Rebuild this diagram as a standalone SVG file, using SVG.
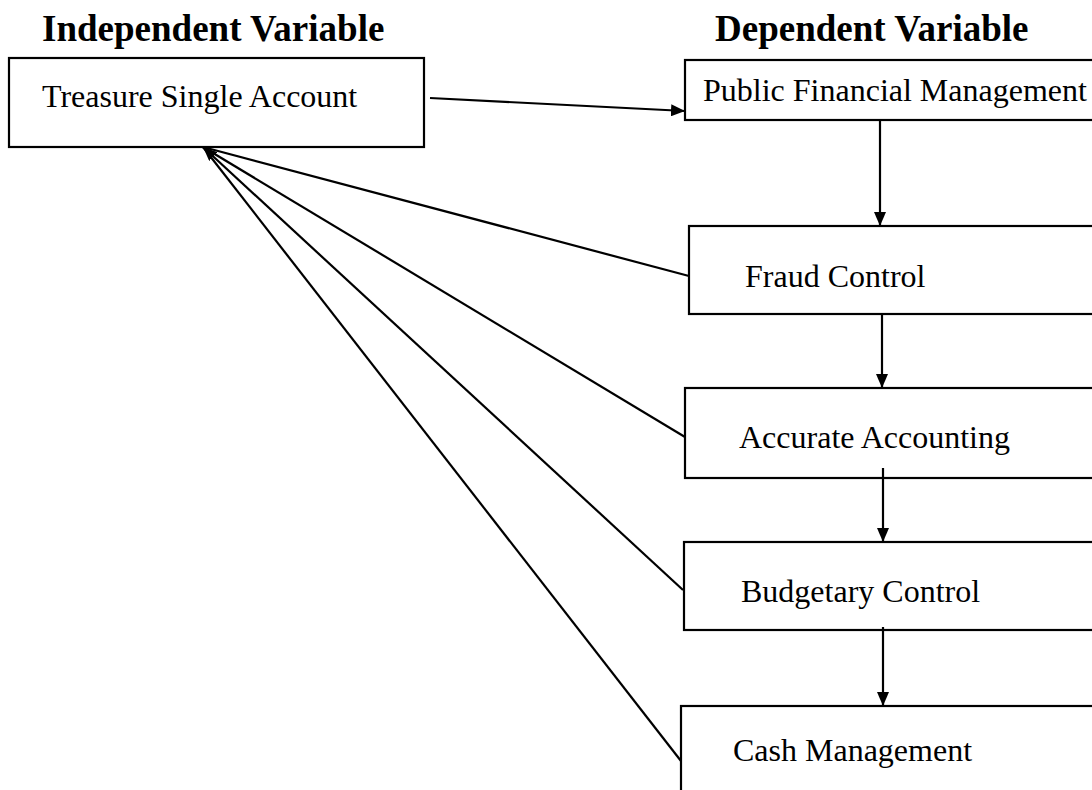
<svg xmlns="http://www.w3.org/2000/svg" width="1092" height="790" viewBox="0 0 1092 790">
<style>
.box{fill:#fff;stroke:#000;stroke-width:2.2}
.t{font-family:"Liberation Serif","Times New Roman",serif;font-size:32px;fill:#000}
.h{font-family:"Liberation Serif","Times New Roman",serif;font-size:37px;font-weight:bold;fill:#000}
.c{stroke:#000;stroke-width:2.2;fill:none}
</style>
<defs>
<marker id="ah" viewBox="0 0 14 12" refX="14" refY="6" markerWidth="14" markerHeight="12" markerUnits="userSpaceOnUse" orient="auto">
<path d="M0,0 L14,6 L0,12 Z" fill="#000"/>
</marker>
</defs>
<text class="h" x="42" y="41">Independent Variable</text>
<text class="h" x="715" y="41">Dependent Variable</text>
<g id="tsa"><rect class="box" x="9" y="58" width="415" height="89"/><text class="t" x="42" y="107">Treasure Single Account</text></g>
<g id="pfm"><rect class="box" x="685" y="60" width="420" height="60"/><text class="t" x="703" y="101">Public Financial Management</text></g>
<g id="fraud"><rect class="box" x="689" y="226" width="420" height="88"/><text class="t" x="745" y="287">Fraud Control</text></g>
<g id="acc"><rect class="box" x="685" y="388" width="420" height="90"/><text class="t" x="739" y="448">Accurate Accounting</text></g>
<g id="bud"><rect class="box" x="684" y="542" width="420" height="88"/><text class="t" x="741" y="602">Budgetary Control</text></g>
<g id="cash"><rect class="box" x="681" y="706" width="420" height="100"/><text class="t" x="733" y="761">Cash Management</text></g>
<g id="connectors">
<line class="c" x1="430" y1="98" x2="685" y2="111" marker-end="url(#ah)"/>
<line class="c" x1="880" y1="120" x2="880" y2="226" marker-end="url(#ah)"/>
<line class="c" x1="882" y1="314" x2="882" y2="388" marker-end="url(#ah)"/>
<line class="c" x1="883" y1="468" x2="883" y2="542" marker-end="url(#ah)"/>
<line class="c" x1="883" y1="627" x2="883" y2="706" marker-end="url(#ah)"/>
<line class="c" x1="689" y1="276" x2="203" y2="147"/>
<line class="c" x1="685" y1="437" x2="203" y2="147"/>
<line class="c" x1="683" y1="590" x2="203" y2="147" marker-end="url(#ah)"/>
<line class="c" x1="681" y1="761" x2="203" y2="147"/>
</g>
</svg>
